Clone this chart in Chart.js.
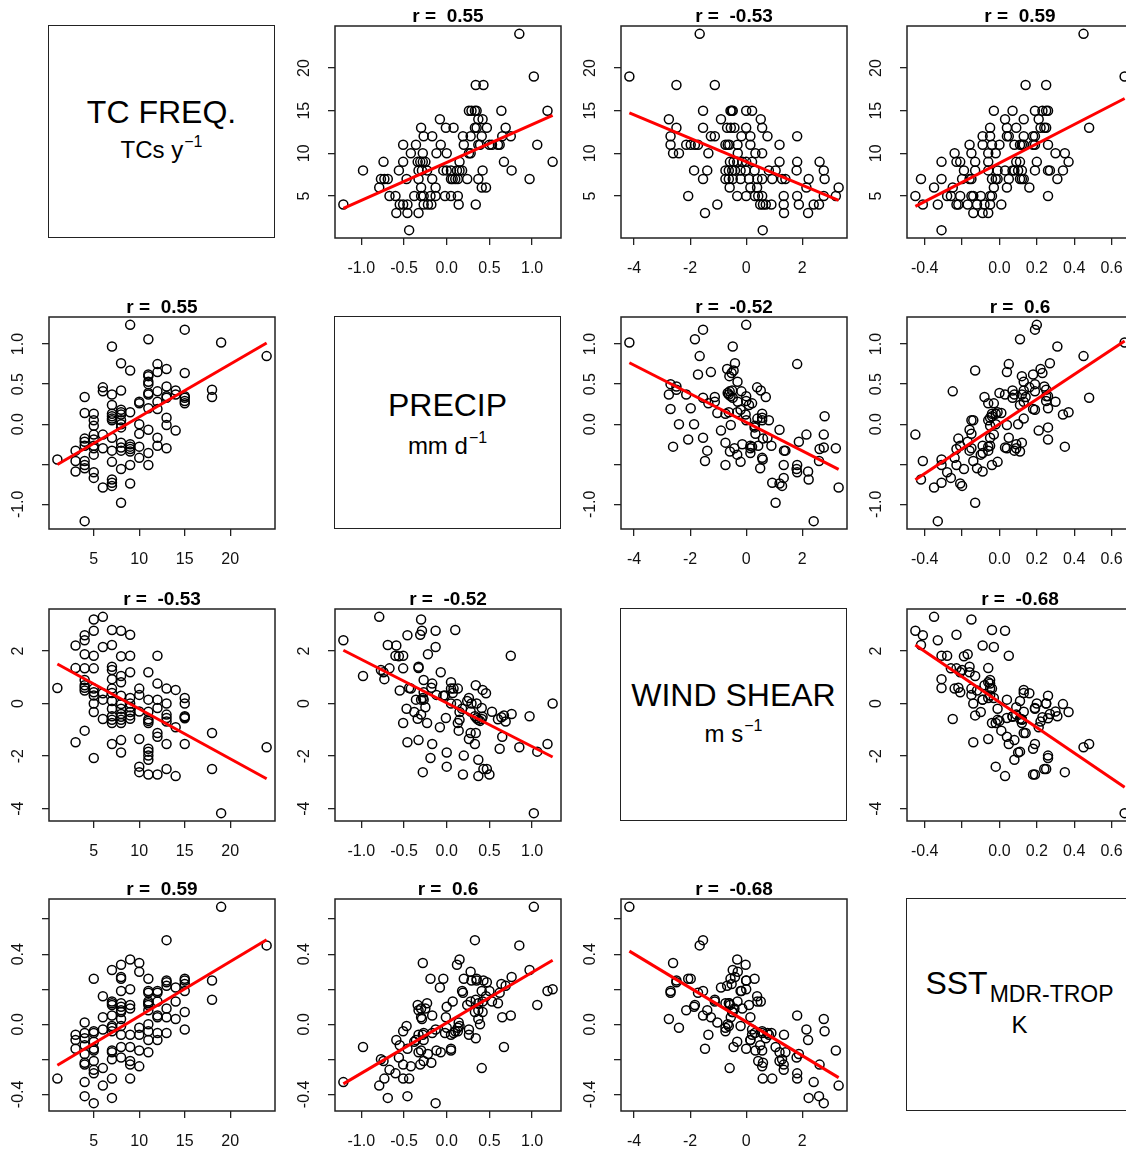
<!DOCTYPE html>
<html>
<head>
<meta charset="utf-8">
<title>Scatterplot matrix</title>
<script src="https://cdn.jsdelivr.net/npm/chart.js@4.4.0/dist/chart.umd.min.js"></script>
<style>
    html, body { margin: 0; padding: 0; background: #fff; overflow: hidden; }
    #page { position: relative; width: 1126px; height: 1149px; overflow: hidden; font-family: "Liberation Sans", Arial, sans-serif; color: #000; }
    #page canvas { position: absolute; }
    .diag { position: absolute; width: 227px; height: 213px; border: 1.5px solid #222; box-sizing: border-box; }
    .diag div { position: absolute; left: 0; right: 0; text-align: center; white-space: nowrap; }
    .main { font-size: 32px; line-height: 32px; }
    .unit { font-size: 24px; line-height: 24px; }
    .sup { font-size: 16px; position: relative; top: -11px; margin-left: 1px; }
    .sub { font-size: 23px; position: relative; top: 8px; margin-left: 2px; }
</style>
</head>
<body>
<div id="page">
    <div class="diag" style="left:48px;top:25px">
        <div class="main" style="top:70px">TC FREQ.</div>
        <div class="unit" style="top:112px">TCs y<span class="sup">−1</span></div>
    </div>
    <div class="diag" style="left:334px;top:316px">
        <div class="main" style="top:72px">PRECIP</div>
        <div class="unit" style="top:117px">mm d<span class="sup">−1</span></div>
    </div>
    <div class="diag" style="left:620px;top:608px">
        <div class="main" style="top:70px">WIND SHEAR</div>
        <div class="unit" style="top:113px">m s<span class="sup">−1</span></div>
    </div>
    <div class="diag" style="left:906px;top:898px">
        <div class="main" style="top:68px">SST<span class="sub">MDR-TROP</span></div>
        <div class="unit" style="top:114px">K</div>
    </div>
</div>
<script>
// One value per year, same order in every array
const tcFreq = [
    1,
    3, 3, 3,
    4, 4, 4, 4, 4, 4, 4, 4, 4,
    5, 5, 5, 5, 5, 5, 5, 5, 5, 5,
    6, 6, 6, 6, 6,
    7, 7, 7, 7, 7, 7, 7, 7, 7, 7, 7, 7, 7,
    8, 8, 8, 8, 8, 8, 8, 8, 8, 8, 8, 8, 8,
    9, 9, 9, 9, 9, 9, 9, 9, 9,
    10, 10, 10, 10, 10, 10,
    11, 11, 11, 11, 11, 11, 11, 11, 11, 11, 11,
    12, 12, 12, 12, 12, 12, 12,
    13, 13, 13, 13, 13, 13, 13,
    14, 14, 14,
    15, 15, 15, 15, 15, 15,
    18, 18,
    19,
    24
];
const precip = [
    -0.44,
    -0.46, -0.59, -0.33,
    -1.21, -0.55, -0.51, -0.46, -0.27, -0.22, -0.18, 0.14, 0.34,
    -0.13, -0.60, -0.67, -0.38, -0.30, -0.27, -0.19, -0.02, 0.05, 0.13,
    -0.79, -0.30, -0.13, 0.41, 0.46,
    0.97, -0.69, 0.10, -0.73, -0.77, -0.47, -0.33, -0.17, 0.05, 0.07, 0.13, 0.24, 0.37,
    -0.98, 0.76, -0.29, -0.56, -0.33, -0.23, -0.04, 0.00, 0.05, 0.12, 0.15, 0.18, 0.42,
    1.24, 0.67, -0.74, -0.51, -0.34, -0.31, -0.28, -0.25, 0.15,
    -0.28, -0.42, -0.12, 0.00, 0.26, 0.28,
    1.06, -0.51, -0.36, -0.07, 0.20, 0.37, 0.39, 0.50, 0.53, 0.60, 0.62,
    0.75, -0.27, -0.17, 0.19, 0.28, 0.41, 0.65,
    0.33, -0.30, -0.01, 0.08, 0.35, 0.47, 0.69,
    0.37, -0.08, 0.42,
    1.18, 0.64, 0.35, 0.33, 0.29, 0.26,
    0.43, 0.34,
    1.02,
    0.85
];
const windShear = [
    0.59,
    -1.47, 2.21, 1.35,
    2.41, 0.50, 1.34, 2.60, 0.90, 1.88, 0.60, -1.03, 0.70,
    2.77, 1.82, 1.34, -0.32, 3.20, 0.43, -2.07, 0.31, 0.00, 0.57,
    3.30, 0.15, 2.15, -0.59, 0.39,
    -0.48, 2.23, 2.80, 0.93, 1.28, -0.20, 1.40, -1.54, 0.57, 0.40, -0.74, 0.10, -0.62,
    1.05, -0.40, 2.77, 1.80, -1.39, -0.74, 0.30, -1.86, 0.81, -0.02, -0.62, -0.20, -0.50,
    0.00, -0.45, 1.19, 1.82, -0.58, 2.62, 0.21, -0.14, -0.32,
    -2.61, 0.57, 0.33, -2.40, -1.35, -0.30,
    -1.83, -0.74, 0.15, 1.19, -1.98, -2.14, -0.66, -2.70, -0.31, -0.60, -1.72,
    1.82, 0.15, 0.76, -2.70, -1.12, -0.17, -1.26,
    -1.54, -0.42, -0.55, 0.57, 0.00, -2.49, -0.68,
    -2.76, -0.90, 0.52,
    -1.54, -0.52, -0.56, -0.48, 0.00, 0.21,
    -2.49, -1.12,
    -4.17,
    -1.66
];
const sstMdrTrop = [
    -0.31,
    -0.14, -0.09, -0.06,
    -0.33, -0.12, -0.23, -0.41, -0.05, -0.17, -0.22, 0.01, -0.08,
    -0.45, -0.28, -0.26, -0.10, -0.15, -0.21, 0.26, -0.05, -0.14, -0.04,
    -0.35, 0.04, -0.03, -0.25, 0.16,
    0.31, -0.42, -0.04, -0.31, -0.20, -0.01, -0.16, 0.05, -0.15, 0.13, -0.02, 0.11, 0.12,
    -0.13, 0.27, 0.03, -0.19, 0.08, 0.12, 0.26, 0.10, -0.06, 0.34, -0.01, 0.19, 0.07,
    0.20, -0.13, -0.21, -0.31, 0.11, -0.23, -0.06, 0.09, 0.37,
    0.35, -0.24, -0.15, -0.02, -0.06, 0.30,
    0.11, -0.04, -0.09, -0.16, 0.26, 0.08, 0.00, 0.19, 0.13, 0.12, 0.18,
    0.05, -0.09, -0.05, 0.18, 0.13, 0.19, 0.04,
    0.48, 0.09, 0.04, -0.05, 0.25, 0.24, 0.22,
    0.03, 0.21, 0.13,
    0.19, 0.23, 0.26, 0.07, 0.25, -0.03,
    0.25, 0.14,
    0.67,
    0.45
];

// Tick positions and their printed labels ('' = tick without label)
const tcTicks = [5, 10, 15, 20];
const precipTicks = [-1, -0.5, 0, 0.5, 1];
const shearTicks = [-4, -2, 0, 2];
const sstTicks = [-0.4, -0.2, 0, 0.2, 0.4, 0.6];

const tcLabels = ['5', '10', '15', '20'];
const precipXLabels = ['-1.0', '-0.5', '0.0', '0.5', '1.0'];
const precipYLabels = ['-1.0', '', '0.0', '0.5', '1.0'];
const shearLabels = ['-4', '-2', '0', '2'];
const sstXLabels = ['-0.4', '', '0.0', '0.2', '0.4', '0.6'];
const sstYLabels = ['-0.4', '', '0.0', '', '0.4', ''];

// Correlation printed above each panel [row][col]
const corrText = [
    [null, '0.55', '-0.53', '0.59'],
    ['0.55', null, '-0.52', '0.6'],
    ['-0.53', '-0.52', null, '-0.68'],
    ['0.59', '0.6', '-0.68', null]
];

const variables = [tcFreq, precip, windShear, sstMdrTrop];
const tickValues = [tcTicks, precipTicks, shearTicks, sstTicks];
const xLabels = [tcLabels, precipXLabels, shearLabels, sstXLabels];
const yLabels = [tcLabels, precipYLabels, shearLabels, sstYLabels];

// Layout of the 4x4 grid (plot boxes)
const panelLeft = [49, 335, 621, 907];
const panelTop = [26, 317, 609, 899];
const PANEL_W = 226;
const PANEL_H = 212;
const PAD_L = 60, PAD_R = 60, PAD_T = 31, PAD_B = 60;
const FONT = '"Liberation Sans", Arial, sans-serif';
const TICK_LEN = 7;

// R style range: data range stretched by 4% on each side
function paddedRange(values) {
    const lo = Math.min(...values);
    const hi = Math.max(...values);
    const d = (hi - lo) * 0.04;
    return [lo - d, hi + d];
}

// Least squares line, drawn over the x range of the data
function fitLine(x, y) {
    const n = x.length;
    const mx = x.reduce((a, b) => a + b, 0) / n;
    const my = y.reduce((a, b) => a + b, 0) / n;
    let sxy = 0, sxx = 0;
    for (let i = 0; i < n; i++) {
        sxy += (x[i] - mx) * (y[i] - my);
        sxx += (x[i] - mx) * (x[i] - mx);
    }
    const b = sxy / sxx;
    const a = my - b * mx;
    const x0 = Math.min(...x), x1 = Math.max(...x);
    return [{ x: x0, y: a + b * x0 }, { x: x1, y: a + b * x1 }];
}

const measureCtx = document.createElement('canvas').getContext('2d');
function widestLabel(labels) {
    measureCtx.font = '16px ' + FONT;
    return Math.max(...labels.map(l => measureCtx.measureText(l).width));
}

function axisOptions(k, isX) {
    const [lo, hi] = paddedRange(variables[k]);
    const labels = isX ? xLabels[k] : yLabels[k];
    const values = tickValues[k];
    return {
        type: 'linear',
        position: isX ? 'bottom' : 'left',
        min: lo,
        max: hi,
        afterBuildTicks: function(scale) {
            scale.ticks = values.map(v => ({ value: v }));
        },
        afterFit: function(scale) {
            if (isX) scale.height = PAD_B;
            else scale.width = PAD_L;
        },
        grid: {
            display: true,
            drawOnChartArea: false,
            drawTicks: true,
            tickLength: TICK_LEN,
            color: '#222',
            lineWidth: 1.3
        },
        border: { display: false },
        ticks: {
            autoSkip: false,
            color: '#111',
            font: { family: FONT, size: 16 },
            padding: isX ? 14 : 30.5 - TICK_LEN - widestLabel(labels) / 2,
            minRotation: isX ? 0 : 90,
            maxRotation: isX ? 0 : 90,
            crossAlign: isX ? 'near' : 'center',
            callback: function(value, index) {
                return labels[index];
            }
        }
    };
}

// Box around every plot region
const boxPlugin = {
    id: 'panelBox',
    afterDraw: function(chart) {
        const { ctx, chartArea: a } = chart;
        ctx.save();
        ctx.strokeStyle = '#222';
        ctx.lineWidth = 1.5;
        ctx.strokeRect(a.left, a.top, a.right - a.left, a.bottom - a.top);
        ctx.restore();
    }
};

const page = document.getElementById('page');

for (let row = 0; row < 4; row++) {
    for (let col = 0; col < 4; col++) {
        if (row === col) continue;

        const xs = variables[col];
        const ys = variables[row];
        const points = xs.map((v, i) => ({ x: v, y: ys[i] }));

        const canvas = document.createElement('canvas');
        canvas.width = PAD_L + PANEL_W + PAD_R;
        canvas.height = PAD_T + PANEL_H + PAD_B;
        canvas.style.left = (panelLeft[col] - PAD_L) + 'px';
        canvas.style.top = (panelTop[row] - PAD_T) + 'px';
        canvas.style.width = canvas.width + 'px';
        canvas.style.height = canvas.height + 'px';
        page.appendChild(canvas);

        new Chart(canvas, {
            type: 'scatter',
            data: {
                datasets: [{
                    data: fitLine(xs, ys),
                    showLine: true,
                    borderColor: '#ff0000',
                    borderWidth: 3,
                    pointRadius: 0,
                    order: 0
                }, {
                    data: points,
                    pointStyle: 'circle',
                    pointRadius: 4.5,
                    borderWidth: 1.5,
                    borderColor: '#000',
                    backgroundColor: 'rgba(0,0,0,0)',
                    order: 1
                }]
            },
            options: {
                responsive: false,
                animation: false,
                devicePixelRatio: 1,
                layout: { padding: { left: 0, right: PAD_R, top: 0, bottom: 0 } },
                scales: {
                    x: axisOptions(col, true),
                    y: axisOptions(row, false)
                },
                plugins: {
                    legend: { display: false },
                    tooltip: { enabled: false },
                    title: {
                        display: true,
                        fullSize: false,
                        text: 'r =  ' + corrText[row][col],
                        color: '#000',
                        font: { family: FONT, size: 19, weight: 'bold', lineHeight: 1 },
                        padding: { top: 12, bottom: 0 }
                    }
                }
            },
            plugins: [boxPlugin]
        });
    }
}
</script>
</body>
</html>
